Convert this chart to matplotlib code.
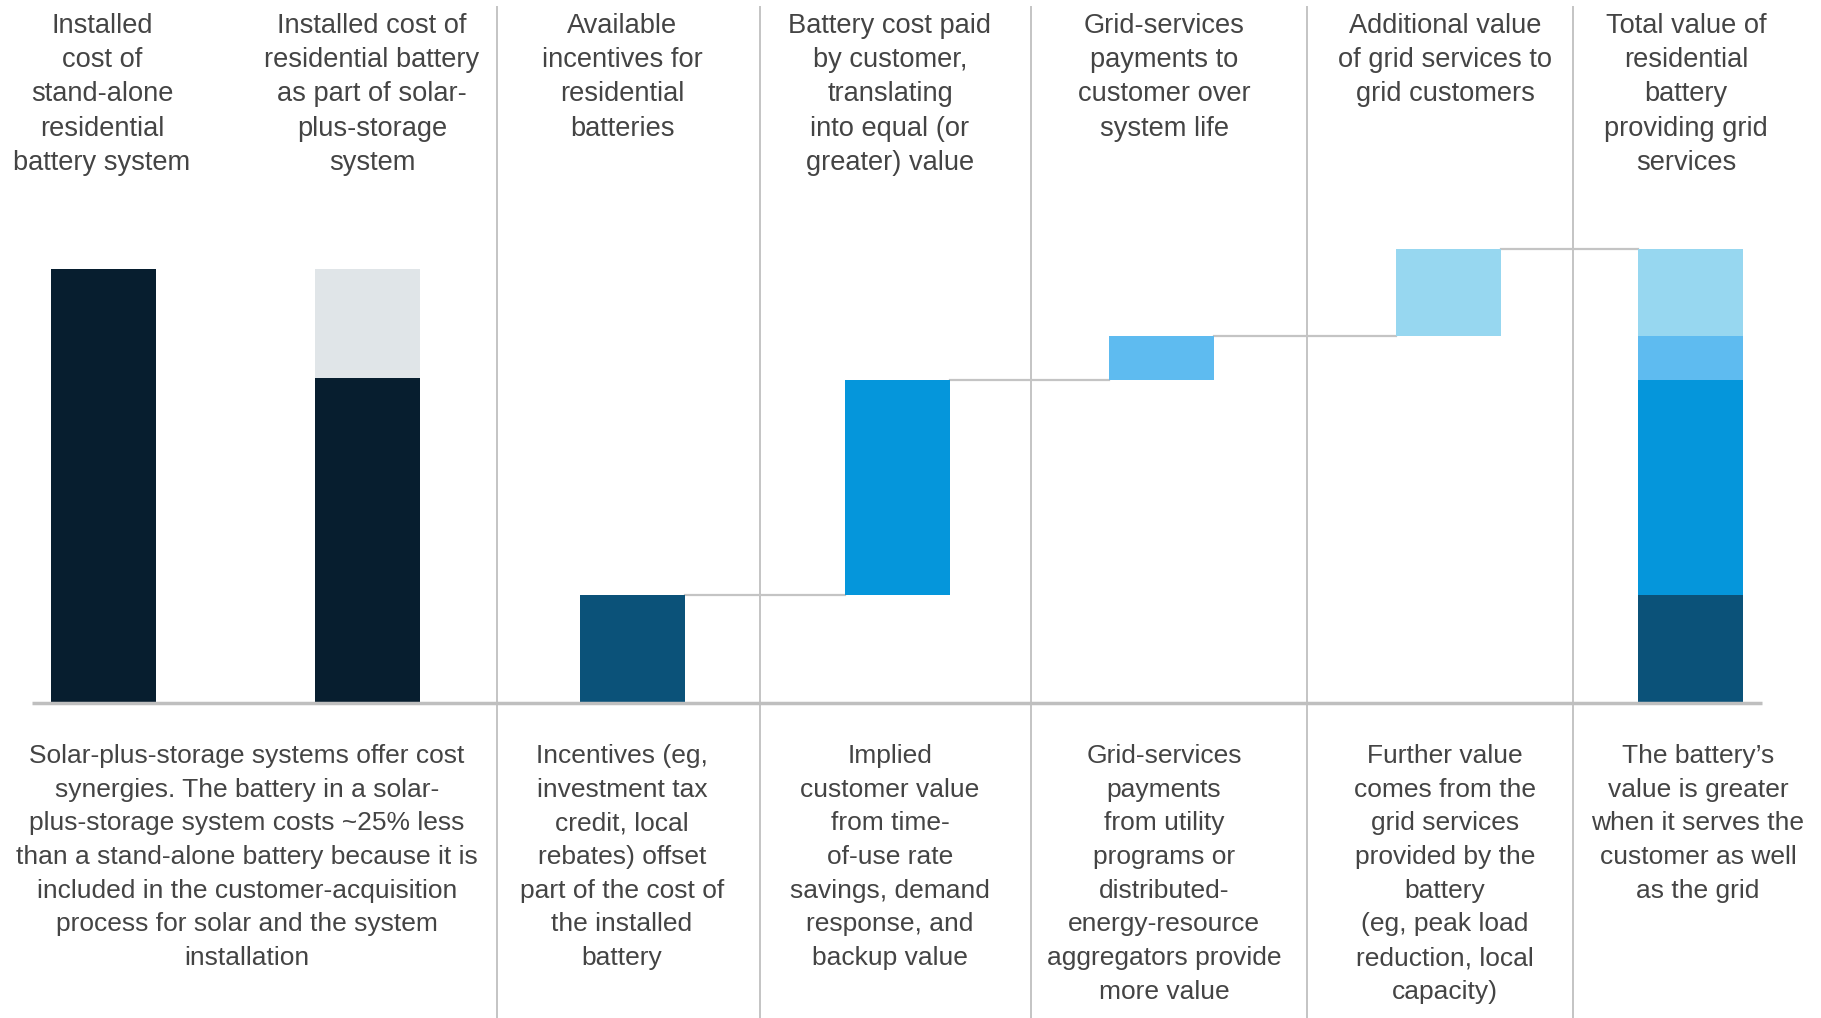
import matplotlib
matplotlib.use("Agg")
import matplotlib.pyplot as plt

# values (installed stand-alone cost = 100)
standalone_cost = 100
solar_storage_cost = 75
steps = [25, 49.5, 10, 20]          # incentives, customer value, grid payments, extra grid value
step_colors = ["#0B5279", "#0596DB", "#5EBBF0", "#97D7F0"]

headers = [
    "Installed\ncost of\nstand-alone\nresidential\nbattery system",
    "Installed cost of\nresidential battery\nas part of solar-\nplus-storage\nsystem",
    "Available\nincentives for\nresidential\nbatteries",
    "Battery cost paid\nby customer,\ntranslating\ninto equal (or\ngreater) value",
    "Grid-services\npayments to\ncustomer over\nsystem life",
    "Additional value\nof grid services to\ngrid customers",
    "Total value of\nresidential\nbattery\nproviding grid\nservices",
]
notes = [
    "Solar-plus-storage systems offer cost\nsynergies. The battery in a solar-\nplus-storage system costs ~25% less\nthan a stand-alone battery because it is\nincluded in the customer-acquisition\nprocess for solar and the system\ninstallation",
    "Incentives (eg,\ninvestment tax\ncredit, local\nrebates) offset\npart of the cost of\nthe installed\nbattery",
    "Implied\ncustomer value\nfrom time-\nof-use rate\nsavings, demand\nresponse, and\nbackup value",
    "Grid-services\npayments\nfrom utility\nprograms or\ndistributed-\nenergy-resource\naggregators provide\nmore value",
    "Further value\ncomes from the\ngrid services\nprovided by the\nbattery\n(eg, peak load\nreduction, local\ncapacity)",
    "The battery\u2019s\nvalue is greater\nwhen it serves the\ncustomer as well\nas the grid",
]

W, H = 1821, 1018
bar_x = [103, 367, 632, 897, 1161, 1448, 1690]
bar_w = 105
header_x = [102, 372, 622, 890, 1164, 1445, 1686]
note_x = [247, 622, 890, 1164, 1445, 1698]
seps = [497, 760, 1031, 1307, 1573]

dark = "#071E2F"
grey_top = "#E0E5E8"
line_c = "#C4C4C4"
txt_c = "#444444"

fig = plt.figure(figsize=(W / 100, H / 100), dpi=100)
ax = fig.add_axes([0, 0, 1, 1])
ax.set_xlim(0, W)
# baseline at y=703 px, 100 units = 434 px
ppu = 4.34
ax.set_ylim(-(H - 703) / ppu, 703 / ppu)
ax.axis("off")

# separators
for x in seps:
    ax.axvline(x, ymin=0, ymax=1 - 7 / H, color=line_c, lw=1.4, zorder=1)

# cost bars
ax.bar(bar_x[0], standalone_cost, width=bar_w, color=dark, zorder=3)
ax.bar(bar_x[1], solar_storage_cost, width=bar_w, color=dark, zorder=3)
ax.bar(bar_x[1], standalone_cost - solar_storage_cost, bottom=solar_storage_cost,
       width=bar_w, color=grey_top, zorder=3)

# waterfall steps and the stacked total
bottom = 0
for i, (v, c) in enumerate(zip(steps, step_colors)):
    ax.bar(bar_x[2 + i], v, bottom=bottom, width=bar_w, color=c, zorder=3)
    ax.bar(bar_x[6], v, bottom=bottom, width=bar_w, color=c, zorder=3)
    top = bottom + v
    nxt = bar_x[3 + i] if i < 3 else bar_x[6]
    ax.plot([bar_x[2 + i] + bar_w / 2, nxt - bar_w / 2], [top, top],
            color=line_c, lw=1.6, zorder=2)
    bottom = top

ax.plot([32, 1762], [0, 0], color="#BFBFBF", lw=2.5, zorder=4, solid_capstyle="butt")

for x, s in zip(header_x, headers):
    fig.text(x / W, 1 - 13 / H, s, ha="center", va="top", fontsize=19.6,
             color=txt_c, family=["Liberation Sans", "DejaVu Sans"], linespacing=1.41)

for x, s in zip(note_x, notes):
    fig.text(x / W, 1 - 744 / H, s, ha="center", va="top", fontsize=19,
             color=txt_c, family=["Liberation Sans", "DejaVu Sans"],
             linespacing=1.51)

fig.savefig("out.png", dpi=100, facecolor="white")
